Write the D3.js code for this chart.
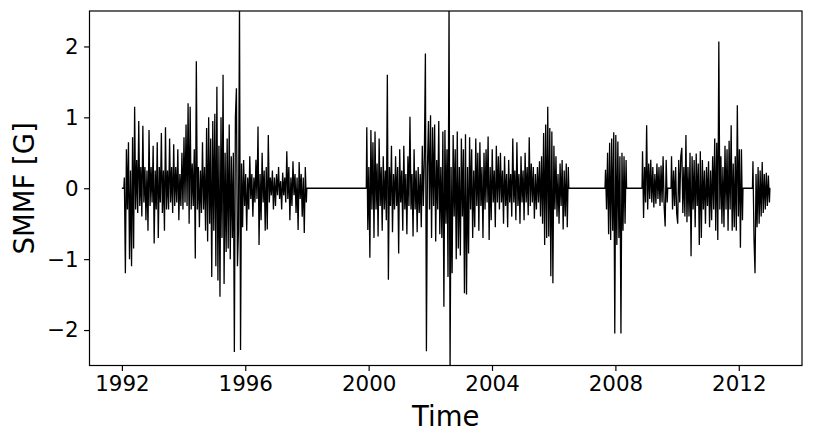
<!DOCTYPE html>
<html>
<head>
<meta charset="utf-8">
<script src="https://cdn.jsdelivr.net/npm/d3@7"></script>
<style>
  html, body { margin: 0; padding: 0; background: #fff; }
  svg { display: block; font-family: "DejaVu Sans", sans-serif; }
</style>
</head>
<body>
<svg id="chart" width="814" height="444"></svg>
<script>
// ---- data (values in Gauss; one value per ~12 days) ----
const xTickLabels = [1992, 1996, 2000, 2004, 2008, 2012];
const yTickLabels = [-2, -1, 0, 1, 2];
const seriesStart = 1992.0;
const seriesEnd = 2013.02;
const cadence = 1 / 30;              // years between samples
const segmentStarts = [1992.08, 1999.94, 2007.68, 2008.88, 2009.82, 2012.46];

const seg1992 = [
  0.15, -1.2, 0.55, -0.3, 0.65, -1.0, 0.25, -1.1, 0.72, -0.85,
  1.15, -0.3, 0.4, -0.35, 0.95, -0.25, 0.3, -0.4, 0.88, -0.2,
  0.3, -0.45, 0.25, -0.6, 0.82, -0.25, 0.3, -0.2, 0.6, -0.78,
  0.25, -0.3, 0.65, -0.7, 0.3, -0.2, 0.78, -0.35, 0.25, -0.6,
  0.86, -0.3, 0.25, -0.3, 0.7, -0.2, 0.3, -0.35, 0.62, -0.25,
  0.3, -0.2, 0.55, -0.45, 0.2, -0.25, 0.5, -0.3, 0.72, -0.2,
  0.9, -0.25, 1.2, -0.5, 1.15, -0.3, 0.35, -0.25, 0.55, -0.99,
  1.79, -0.3, 0.3, -0.55, 0.25, -0.35, 0.65, -0.3, 0.3, -0.6,
  0.85, -0.75, 1.0, -0.5, 0.7, -1.25, 0.95, -0.6, 1.05, -1.1,
  1.43, -1.3, 0.6, -1.53, 1.0, -0.7, 1.6, -1.35, 0.5, -0.9,
  0.7, -0.85, 0.9, -1.0, 0.45, -0.7, 0.5, -2.31, 1.0, 1.41,
  -1.1, -0.6, 2.6, -2.28, 0.35, -0.55, 0.4, -0.25, 0.2, -0.6,
  0.15, -0.3, 0.45, -0.15, 0.2, -0.4, 0.15, -0.2, 0.4, -0.15,
  0.87, -0.8, 0.2, -0.45, 0.5, -0.2, 0.25, -0.6, 0.3, -0.58,
  0.75, -0.2, 0.15, -0.1, 0.25, -0.3, 0.15, -0.25, 0.2, -0.1,
  0.3, -0.15, 0.1, -0.3, 0.22, -0.1, 0.15, -0.2, 0.52, -0.15,
  0.3, -0.45, 0.15, -0.25, 0.38, -0.1, 0.2, -0.35, 0.15, -0.59,
  0.37, -0.15, 0.2, -0.4, 0.15, -0.63, 0.3, -0.2
];
const seg2000 = [
  0.86, -0.59, 0.3, -0.98, 0.82, -0.3, 0.65, -0.7, 0.8, -0.3,
  0.35, -0.68, 0.7, -0.25, 0.3, -0.6, 0.45, -0.3, 0.25, -0.45,
  1.6, -1.29, 0.3, -0.25, 0.6, -0.62, 0.2, -0.3, 0.45, -0.25,
  0.3, -0.92, 0.55, -0.2, 0.25, -0.6, 0.6, -0.3, 0.2, -0.65,
  0.45, -0.25, 1.01, -0.3, 0.2, -0.68, 0.55, -0.3, 0.25, -0.62,
  0.3, -0.35, 0.2, -0.55, 0.6, -0.25, 0.45, 1.9, -2.3, 0.3,
  0.95, -0.3, 1.03, -0.7, 0.86, -0.25, 0.9, -0.75, 0.4, -0.3,
  0.95, -0.65, 0.3, -0.7, 0.8, -1.67, 0.82, -0.5, 0.55, -1.25,
  2.6, -2.6, 0.3, -1.2, 0.75, -0.4, 0.55, -1.0, 0.8, -0.85,
  0.3, -0.95, 0.7, -0.4, 0.55, -1.48, 0.76, -1.5, 0.3, -0.92,
  0.72, -0.3, 0.55, -0.7, 0.25, -0.55, 0.7, -0.25, 0.5, -0.6,
  0.65, -0.25, 0.3, -0.7, 0.5, -0.3, 0.55, -0.2, 0.73, -0.73,
  0.3, -0.45, 0.55, -0.2, 0.25, -0.55, 0.6, -0.2, 0.45, -0.3,
  0.5, -0.2, 0.25, -0.5, 0.45, -0.25, 0.2, -0.55, 0.4, -0.2,
  0.2, -0.4, 0.7, -0.2, 0.25, -0.45, 0.65, -0.25, 0.2, -0.5,
  0.45, -0.2, 0.25, -0.45, 0.5, -0.2, 0.3, -0.38, 0.72, -0.25,
  0.35, -0.2, 0.3, -0.43, 0.2, -0.3, 0.3, -0.2, 0.38, -0.4,
  0.45, -0.5, 0.78, -0.8, 0.9, -0.7, 1.15, -0.68, 0.85, -1.24,
  0.8, -1.34, 0.6, -0.3, 0.45, -0.4, 0.2, -0.5, 0.35, -0.25,
  0.4, -0.58, 0.25, -0.4, 0.35, -0.55, 0.3
];
const seg2007 = [
  0.26, -0.3, 0.5, -0.65, 0.64, -0.73, 0.7, -0.6, 0.79, -2.05,
  0.75, -0.8, 0.66, -0.7, 0.45, -2.05, 0.5, -0.6, 0.45, -0.5, 0.4
];
const seg2008 = [
  0.52, -0.42, 0.3, -0.2, 0.89, -0.3, 0.35, -0.15, 0.4, -0.2,
  0.3, -0.27, 0.2, -0.22, 0.35, -0.15, 0.3, -0.25, 0.32, -0.2,
  0.45, -0.25, -0.54, 0.4, -0.2
];
const seg2009 = [
  0.45, -0.3, 0.25, -0.25, 0.3, -0.35, -0.5, 0.4, -0.2, 0.45,
  0.57, -0.35, 0.3, -0.4, 0.75, -0.48, 0.3, -0.4, 0.5, -0.96,
  0.45, -0.3, 0.4, -0.55, 0.49, -0.25, 0.35, -0.8, 0.52, -0.7,
  0.4, -0.3, 0.25, -0.5, 0.3, -0.25, 0.38, -0.55, 0.25, -0.45,
  0.45, -0.3, 0.7, -0.6, 0.64, -0.73, 2.07, -0.3, 0.45, -0.5,
  0.3, -0.55, 0.6, -0.3, 0.55, -0.6, 0.67, -0.3, 0.89, -0.6,
  0.35, -0.55, 0.45, -0.6, 1.17, -0.4, 0.55, -0.84, 0.55, -0.45
];
const seg2012 = [
  0.38, -0.7, -1.2, 0.2, -0.55, 0.3, -0.5, 0.25, -0.4, 0.37,
  -0.35, 0.2, -0.3, 0.22, -0.25, 0.18, -0.2
];
const segments = [seg1992, seg2000, seg2007, seg2008, seg2009, seg2012];

// ---- build the time series (gaps carry zero values) ----
const points = [{ t: seriesStart, v: 0 }];
segments.forEach((vals, k) => {
  const t0 = segmentStarts[k];
  points.push({ t: t0 - cadence * 0.5, v: 0 });
  vals.forEach((v, i) => points.push({ t: t0 + i * cadence, v }));
  points.push({ t: t0 + (vals.length - 0.5) * cadence, v: 0 });
});
points.push({ t: seriesEnd, v: 0 });

// ---- layout ----
const svg = d3.select("#chart");
const L = 89.5, R = 802, T = 11, B = 365.5;
const tickFont = 21.4, labelFont = 27.5;

const x = d3.scaleLinear().domain([1990.95, 2014.05]).range([L, R]);
const y = d3.scaleLinear().domain([-2.5, 2.5]).range([B, T]);

svg.append("defs").append("clipPath").attr("id", "plotclip")
  .append("rect").attr("x", L).attr("y", T).attr("width", R - L).attr("height", B - T);

const line = d3.line().x(d => x(d.t)).y(d => y(d.v));
svg.append("path")
  .datum(points)
  .attr("clip-path", "url(#plotclip)")
  .attr("fill", "none")
  .attr("stroke", "#000")
  .attr("stroke-width", 1.3)
  .attr("stroke-linejoin", "bevel")
  .attr("d", line);

// axes
const fmtMinus = d => String(d).replace("-", "\u2212");
const xAxis = d3.axisBottom(x).tickValues(xTickLabels).tickSize(5.4).tickPadding(5.4).tickFormat(d => d);
const yAxis = d3.axisLeft(y).tickValues(yTickLabels).tickSize(5.4).tickPadding(5.4).tickFormat(fmtMinus);

const gx = svg.append("g").attr("transform", `translate(0,${B})`).call(xAxis);
const gy = svg.append("g").attr("transform", `translate(${L},0)`).call(yAxis);
[gx, gy].forEach(g => {
  g.select(".domain").remove();
  g.selectAll(".tick line").attr("stroke", "#000").attr("stroke-width", 1.2);
  g.selectAll(".tick text").attr("fill", "#000")
    .style("font-family", "'DejaVu Sans', sans-serif").style("font-size", tickFont + "px");
});

// frame
svg.append("rect").attr("x", L).attr("y", T).attr("width", R - L).attr("height", B - T)
  .attr("fill", "none").attr("stroke", "#000").attr("stroke-width", 1.2);

// axis labels
svg.append("text").attr("x", (L + R) / 2).attr("y", 426)
  .attr("text-anchor", "middle").style("font-size", labelFont + "px").attr("fill", "#000")
  .text("Time");
svg.append("text").attr("transform", `translate(34,${(T + B) / 2}) rotate(-90)`)
  .attr("text-anchor", "middle").style("font-size", labelFont + "px").attr("fill", "#000")
  .text("SMMF [G]");
</script>
</body>
</html>
